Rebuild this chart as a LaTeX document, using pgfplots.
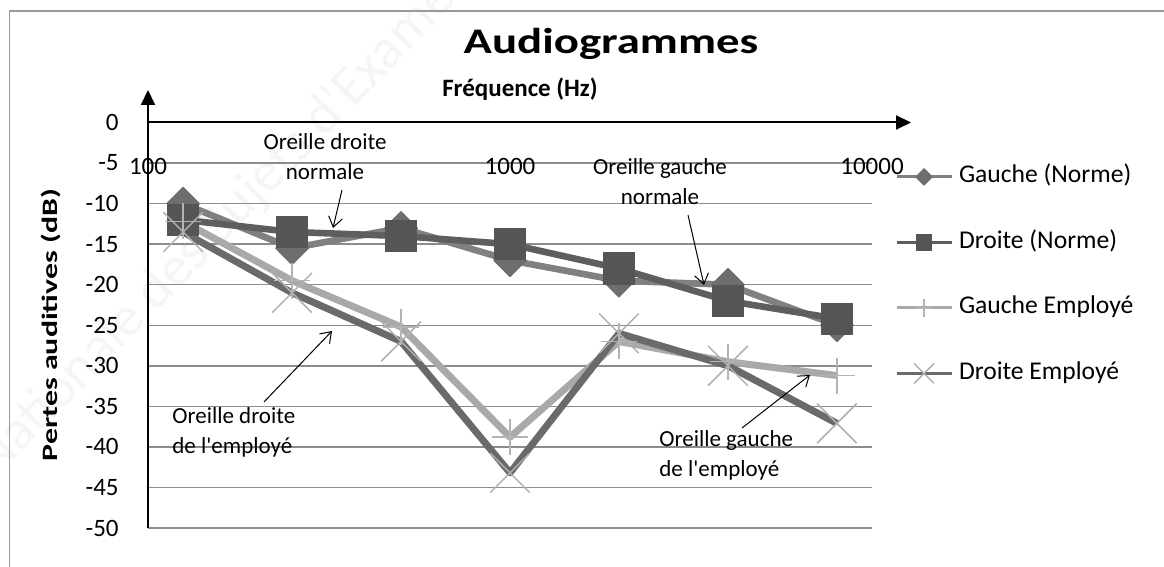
\documentclass[border=0pt]{standalone}
\usepackage{pgfplots}
\pgfplotsset{compat=1.18}
\usepackage{fontspec}
\setmainfont{Carlito}
\usetikzlibrary{arrows.meta}
\definecolor{gnline}{HTML}{808080}
\definecolor{gnmark}{HTML}{6E6E6E}
\definecolor{dnline}{HTML}{5E5E5E}
\definecolor{dnmark}{HTML}{555555}
\definecolor{geline}{HTML}{A9A9A9}
\definecolor{gemark}{HTML}{B4B4B4}
\definecolor{deline}{HTML}{6A6A6A}
\definecolor{demark}{HTML}{B0B0B0}
\definecolor{gridc}{HTML}{8C8C8C}
\begin{document}
\begin{tikzpicture}
\begin{scope}[x=0.5pt,y=0.5pt]
\path[use as bounding box] (0,0) rectangle (1164,567);
\begin{scope}
\clip (0,0) rectangle (1164,567);
\node[rotate=46, anchor=base west, text=black!4, font=\fontsize{28}{30}\selectfont, inner sep=0pt] at (-5,87) {Nationale des Sujets d\textquotesingle Examens};
\end{scope}
\draw[black!40, line width=0.75pt] (9.5,0) -- (9.5,556) -- (1164,556);
\end{scope}
\begin{axis}[
  at={(74pt,19.5pt)}, anchor=south west,
  scale only axis, width=362pt, height=202.75pt,
  xmode=log, xmin=100, xmax=10000, ymin=-50, ymax=0,
  clip=false,
  axis line style={draw=none},
  major tick length=0pt,
  xtick=\empty,
  ytick={-50,-45,-40,-35,-30,-25,-20,-15,-10,-5,0},
  ymajorgrids,
  grid style={gridc, line width=0.75pt},
  /pgf/number format/assume math mode=true,
  yticklabel style={font=\fontsize{12.5}{14}\selectfont, anchor=east, inner sep=0pt, xshift=-14.5pt},
  legend style={at={(axis description cs:1.0318,0.9466)}, anchor=north west, draw=none, fill=none,
    inner sep=0pt, outer sep=0pt, row sep=0pt, column sep=3pt,
    font=\fontsize{12.8}{14}\selectfont,
    nodes={inner xsep=0pt, inner ysep=0pt, text height=9pt, text depth=3pt, minimum height=32.75pt}},
  legend cell align=left,
  legend image code/.code={\draw[mark repeat=2,mark phase=2,#1] plot coordinates {(0pt,0pt) (13.75pt,0pt) (27.5pt,0pt)};},
  legend image post style={line width=1.5pt, every mark/.append style={scale=0.5}},
]
\addplot[color=gnline, line width=3.3pt, line join=round, mark=square*, mark size=5.8pt,
  mark options={rotate=45, fill=gnmark, draw=gnmark, line width=0.5pt}]
  coordinates {(125,-10)(250,-15.5)(500,-13)(1000,-17)(2000,-19.5)(4000,-20)(8000,-25)};
\addlegendentry{Gauche (Norme)}
\addplot[color=dnline, line width=3.3pt, line join=round, mark=square*, mark size=7.8pt,
  mark options={fill=dnmark, draw=dnmark, line width=0.5pt}]
  coordinates {(125,-12)(250,-13.5)(500,-14)(1000,-15)(2000,-18)(4000,-22)(8000,-24.2)};
\addlegendentry{Droite (Norme)}
\addplot[color=geline, line width=3.5pt, line join=round, mark=+, mark size=9pt,
  mark options={draw=gemark, line width=0.75pt}]
  coordinates {(125,-12.2)(250,-19.5)(500,-25.2)(1000,-38.8)(2000,-27)(4000,-29.5)(8000,-31.2)};
\addlegendentry{Gauche Employé}
\addplot[color=deline, line width=3.5pt, line join=round, mark=x, mark size=14pt,
  mark options={draw=demark, line width=0.75pt}]
  coordinates {(125,-13.5)(250,-21)(500,-27)(1000,-43.2)(2000,-26)(4000,-30)(8000,-37.1)};
\addlegendentry{Droite Employé}
\node[font=\fontsize{12.5}{14}\selectfont, inner sep=0pt] at (axis cs:100,-5.37) {100};
\node[font=\fontsize{12.5}{14}\selectfont, inner sep=0pt] at (axis cs:1000,-5.37) {1000};
\node[font=\fontsize{12.5}{14}\selectfont, inner sep=0pt] at (axis cs:10000,-5.37) {10000};
\end{axis}
\begin{scope}[x=0.5pt,y=0.5pt]
\draw[black, line width=1pt, -{Triangle[length=7.5pt,width=7pt]}] (148,39) -- (148,477);
\draw[black, line width=1pt, -{Triangle[length=7.5pt,width=7pt]}] (148,444.5) -- (911,444.5);
\node[anchor=base, inner sep=0pt] at (611,513) {\scalebox{1.3}[1]{\fontsize{18}{20}\selectfont\bfseries Audiogrammes}};
\node[anchor=base, inner sep=0pt, font=\fontsize{12.5}{14}\selectfont\bfseries] at (520,470) {Fréquence (Hz)};
\node[anchor=base, rotate=90, inner sep=0pt] at (57,242) {\scalebox{1.45}[1]{\fontsize{11}{13}\selectfont\bfseries Pertes auditives (dB)}};
\node[align=center, inner sep=0pt, font=\fontsize{11.5}{15}\selectfont] at (325,410) {Oreille droite\\normale};
\node[align=center, inner sep=0pt, font=\fontsize{11.5}{15}\selectfont] at (660,385) {Oreille gauche\\normale};
\node[align=left, anchor=west, inner sep=0pt, font=\fontsize{11.5}{15}\selectfont] at (172,135) {Oreille droite\\de l\textquotesingle employé};
\node[align=left, anchor=west, inner sep=0pt, font=\fontsize{11.5}{15}\selectfont] at (659,112) {Oreille gauche\\de l\textquotesingle employé};
\draw[black, line width=0.5pt, -{Straight Barb[length=5pt,width=7pt]}] (342,377) -- (333,339);
\draw[black, line width=0.5pt, -{Straight Barb[length=5pt,width=7pt]}] (688,352) -- (704,282);
\draw[black, line width=0.5pt, -{Straight Barb[length=5pt,width=7pt]}] (264,165) -- (332,236);
\draw[black, line width=0.5pt, -{Straight Barb[length=5pt,width=7pt]}] (742,139) -- (810,192);
\end{scope}
\end{tikzpicture}
\end{document}
